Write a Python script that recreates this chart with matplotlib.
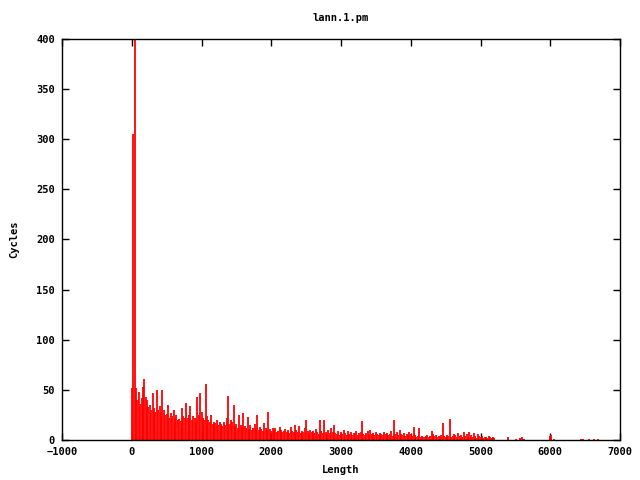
import numpy as np
import matplotlib
matplotlib.use("Agg")
import matplotlib.pyplot as plt

# dense part: one impulse every 20 units of length, from 0 to 5200
dense_start = 0
dense_step = 20
dense_cycles = [
    52, 305, 600, 52, 40, 48, 36, 42, 53, 61,
    43, 40, 33, 35, 30, 47, 32, 28, 50, 30,
    34, 28, 50, 30, 25, 26, 35, 22, 27, 24,
    30, 22, 25, 20, 21, 19, 32, 24, 22, 37,
    22, 25, 34, 20, 24, 22, 18, 43, 25, 47,
    28, 22, 20, 56, 24, 20, 18, 25, 16, 18,
    17, 20, 15, 18, 16, 14, 18, 15, 22, 44,
    16, 20, 18, 35, 14, 16, 12, 25, 15, 13,
    27, 14, 12, 23, 11, 15, 10, 12, 16, 12,
    25, 10, 13, 11, 9, 17, 12, 10, 28, 11,
    9, 12, 10, 12, 8, 9, 13, 10, 8, 9,
    11, 8, 10, 7, 13, 9, 8, 15, 10, 8,
    14, 7, 9, 8, 12, 20, 9, 7, 10, 8,
    9, 7, 11, 8, 6, 20, 9, 7, 20, 8,
    6, 10, 7, 12, 8, 15, 7, 6, 9, 5,
    8, 6, 10, 7, 5, 9, 6, 8, 5, 7,
    6, 9, 5, 7, 8, 19, 6, 5, 7, 9,
    5, 10, 6, 7, 5, 8, 6, 5, 7, 6,
    5, 8, 6, 7, 5, 6, 9, 4, 20, 6,
    8, 5, 10, 6, 5, 7, 4, 6, 5, 8,
    6, 4, 13, 5, 3, 4, 12, 3, 4, 3,
    3, 4, 5, 3, 4, 9, 6, 4, 5, 3,
    4, 3, 5, 17, 4, 3, 5, 4, 21, 3,
    4, 6, 5, 3, 7, 4, 5, 3, 8, 4,
    6, 3, 8, 5, 3, 7, 4, 2, 6, 4,
    3, 4, 2, 3, 3, 2, 4, 3, 2, 3,
    2,
]

# sparse tail
tail_length = [5400, 5510, 5560, 5590, 5630, 5990, 6010, 6060, 6440, 6470, 6560, 6630, 6680]
tail_cycles = [3, 1, 2, 3, 1, 4, 5, 1, 1, 1, 1, 1, 1]

length = np.concatenate([dense_start + dense_step * np.arange(len(dense_cycles)), tail_length])
cycles = np.concatenate([dense_cycles, tail_cycles])

plt.rcParams["font.family"] = "DejaVu Sans Mono"
plt.rcParams["font.weight"] = "bold"
plt.rcParams["font.size"] = 7.5

fig = plt.figure(figsize=(6.4, 4.8), dpi=100)
ax = fig.add_axes([62 / 640, 1 - 440 / 480, (620 - 62) / 640, (440 - 39) / 480])

ax.vlines(length, 0, cycles, color="#ff0000", lw=1.3)

ax.set_xlim(-1000, 7000)
ax.set_ylim(0, 400)
ax.set_xticks(np.arange(-1000, 7001, 1000))
ax.set_yticks(np.arange(0, 401, 50))
ax.tick_params(direction="in", top=True, right=True, length=5, width=1, pad=5)
for s in ax.spines.values():
    s.set_linewidth(1)

ax.set_title("lann.1.pm", fontsize=7.5, fontweight="bold", pad=13)
ax.set_xlabel("Length", fontweight="bold", labelpad=6)
ax.set_ylabel("Cycles", fontweight="bold", labelpad=12)

fig.savefig("out.png", dpi=100)
